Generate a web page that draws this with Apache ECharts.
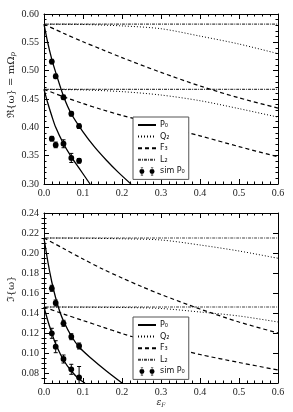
<!DOCTYPE html>
<html><head><meta charset="utf-8">
<script src="https://cdn.jsdelivr.net/npm/echarts@6/dist/echarts.min.js"></script>
<style>html,body{margin:0;padding:0;background:#fff}#c{width:293px;height:412px}</style>
</head><body><div id="c"></div>
<script>
// ---------- Real part (top panel) ----------
const reP0HiEps = [0, 0.01, 0.02, 0.03, 0.05, 0.07, 0.10, 0.13, 0.16, 0.19, 0.223];
const reP0Hi    = [0.582, 0.548, 0.520, 0.497, 0.455, 0.424, 0.392, 0.365, 0.342, 0.321, 0.300];
const reP0LoEps = [0, 0.01, 0.02, 0.03, 0.05, 0.07, 0.09, 0.118];
const reP0Lo    = [0.467, 0.442, 0.420, 0.400, 0.371, 0.348, 0.328, 0.300];
const qEps   = [0, 0.1, 0.2, 0.3, 0.4, 0.5, 0.6];
const reQ2Hi = [0.582, 0.5815, 0.579, 0.574, 0.561, 0.547, 0.530];
const reQ2Lo = [0.467, 0.466, 0.463, 0.457, 0.447, 0.433, 0.418];
const fEps   = [0, 0.05, 0.1, 0.15, 0.2, 0.3, 0.4, 0.5, 0.6];
const reF3Hi = [0.582, 0.566, 0.551, 0.537, 0.523, 0.497, 0.473, 0.452, 0.434];
const reF3Lo = [0.467, 0.454, 0.442, 0.431, 0.421, 0.403, 0.385, 0.366, 0.348];
const lEps   = [0, 0.6];
const reL2Hi = [0.582, 0.582];
const reL2Lo = [0.467, 0.467];
const simEps = [0.02, 0.03, 0.05, 0.07, 0.09];
const reSimHi    = [0.516, 0.490, 0.453, 0.424, 0.402];
const reSimHiErr = [0.004, 0.004, 0.004, 0.004, 0.004];
const reSimLo    = [0.380, 0.369, 0.371, 0.346, 0.341];
const reSimLoErr = [0.004, 0.005, 0.007, 0.008, 0.004];
const reTicks = [0.30, 0.35, 0.40, 0.45, 0.50, 0.55, 0.60];

// ---------- Imaginary part (bottom panel) ----------
const imP0HiEps = [0, 0.01, 0.02, 0.03, 0.04, 0.05, 0.07, 0.09, 0.12, 0.16, 0.2];
const imP0Hi    = [0.215, 0.191, 0.171, 0.155, 0.142, 0.132, 0.117, 0.106, 0.095, 0.082, 0.070];
const imP0LoEps = [0, 0.01, 0.02, 0.03, 0.05, 0.07, 0.09, 0.105];
const imP0Lo    = [0.146, 0.132, 0.120, 0.109, 0.093, 0.082, 0.074, 0.070];
const imQ2Hi = [0.215, 0.2148, 0.2142, 0.213, 0.208, 0.202, 0.1947];
const imQ2Lo = [0.146, 0.1458, 0.1455, 0.1445, 0.141, 0.137, 0.131];
const imF3Eps = [0, 0.05, 0.1, 0.15, 0.2, 0.25, 0.3, 0.4, 0.5, 0.6];
const imF3Hi  = [0.215, 0.2045, 0.194, 0.184, 0.175, 0.1665, 0.1585, 0.144, 0.131, 0.120];
const imF3Lo  = [0.146, 0.139, 0.1325, 0.126, 0.1195, 0.1135, 0.108, 0.0985, 0.0905, 0.083];
const imL2Hi = [0.215, 0.215];
const imL2Lo = [0.146, 0.146];
const imSimHi    = [0.1647, 0.150, 0.1297, 0.1163, 0.107];
const imSimHiErr = [0.003, 0.003, 0.003, 0.003, 0.003];
const imSimLo    = [0.1197, 0.1063, 0.094, 0.0837, 0.0755];
const imSimLoErr = [0.005, 0.006, 0.004, 0.005, 0.011];
const imTicks = [0.08, 0.10, 0.12, 0.14, 0.16, 0.18, 0.20, 0.22, 0.24];

const names = ['P\u2080', 'Q\u2082', 'F\u2083', 'L\u2082', 'sim P\u2080'];

const pairs = (xs, ys) => xs.map((x, i) => [x, ys[i]]);
const triples = (xs, ys, es) => xs.map((x, i) => [x, ys[i], es[i]]);

const serifFont = "'Liberation Serif', 'DejaVu Serif', serif";
const styles = {
  P0: {color: '#000', width: 1.3, type: 'solid'},
  Q2: {color: '#000', width: 1, type: [1, 2]},
  F3: {color: '#000', width: 1.2, type: [4, 3]},
  L2: {color: '#444', width: 1.2, type: [3, 1, 1, 1]}
};

function lineSeries(name, key, xs, ys, gi) {
  return {
    type: 'line', name: name, xAxisIndex: gi * 2, yAxisIndex: gi * 2,
    data: pairs(xs, ys), symbol: 'none', smooth: 0.3,
    color: '#000', itemStyle: {color: '#000'},
    lineStyle: styles[key], clip: true, z: 3, animation: false
  };
}
function errSeries(name, xs, ys, es, gi) {
  return {
    type: 'custom', name: name, xAxisIndex: gi * 2, yAxisIndex: gi * 2,
    data: triples(xs, ys, es), encode: {x: 0, y: 1}, clip: true, z: 5,
    color: '#000', itemStyle: {color: '#000'}, animation: false,
    renderItem: function (params, api) {
      const x = api.value(0), y = api.value(1), e = api.value(2);
      const p = api.coord([x, y]);
      const t = api.coord([x, y + e]);
      const b = api.coord([x, y - e]);
      const st = {stroke: '#000', lineWidth: 1};
      return {type: 'group', children: [
        {type: 'line', shape: {x1: p[0], y1: t[1], x2: p[0], y2: b[1]}, style: st},
        {type: 'line', shape: {x1: p[0] - 2, y1: t[1], x2: p[0] + 2, y2: t[1]}, style: st},
        {type: 'line', shape: {x1: p[0] - 2, y1: b[1], x2: p[0] + 2, y2: b[1]}, style: st},
        {type: 'circle', shape: {cx: p[0], cy: p[1], r: 2.9}, style: {fill: '#000'}}
      ]};
    }
  };
}

const axLine = {show: true, onZero: false, lineStyle: {color: '#000', width: 1}};
function xAx(gi, pos, labels) {
  return {
    type: 'value', gridIndex: gi, position: pos, min: 0, max: 0.6, interval: 0.1,
    axisLine: axLine,
    axisTick: {show: true, inside: true, length: 5, lineStyle: {color: '#000'}},
    minorTick: {show: true, splitNumber: 5, length: 2.5, lineStyle: {color: '#000'}},
    splitLine: {show: false}, minorSplitLine: {show: false},
    axisLabel: {show: labels, margin: 4, fontFamily: serifFont, fontSize: 10, color: '#222',
      formatter: v => v.toFixed(1)}
  };
}
function yTop(pos, labels) {
  return {
    type: 'value', gridIndex: 0, position: pos, min: 0.3, max: 0.6, interval: 0.05,
    axisLine: axLine,
    axisTick: {show: true, inside: true, length: 5, lineStyle: {color: '#000'}},
    minorTick: {show: true, splitNumber: 5, length: 2.5, lineStyle: {color: '#000'}},
    splitLine: {show: false}, minorSplitLine: {show: false},
    axisLabel: {show: labels, margin: 5, fontFamily: serifFont, fontSize: 10, color: '#222',
      formatter: v => v.toFixed(2), customValues: reTicks}
  };
}
const imMinor = [];
for (let v = 0.075; v < 0.2401; v += 0.005) {
  const r = Math.round(v * 1000) / 1000;
  if (Math.round(r * 1000) % 20 !== 0) imMinor.push(r);
}
function yBot(pos, labels) {
  return {
    type: 'value', gridIndex: 1, position: pos, min: 0.07, max: 0.24,
    axisLine: axLine,
    axisTick: {show: true, inside: true, length: 5, lineStyle: {color: '#000'}, customValues: imTicks},
    splitLine: {show: false},
    axisLabel: {show: labels, margin: 5, fontFamily: serifFont, fontSize: 10, color: '#222',
      formatter: v => v.toFixed(2), customValues: imTicks}
  };
}
function yBotMinor(pos) {
  return {
    type: 'value', gridIndex: 1, position: pos, min: 0.07, max: 0.24,
    axisLine: {show: false},
    axisTick: {show: true, inside: true, length: 2.5, lineStyle: {color: '#000'}, customValues: imMinor},
    splitLine: {show: false},
    axisLabel: {show: false, customValues: imMinor}
  };
}

// legend icon: two filled markers with error bars (all sub-paths clockwise)
const simIcon = 'path://M1.5,5a2.8,2.8 0 1,1 5.6,0a2.8,2.8 0 1,1 -5.6,0z' +
  'M12.9,5a2.8,2.8 0 1,1 5.6,0a2.8,2.8 0 1,1 -5.6,0z' +
  'M4,0.5h0.6v9h-0.6z M3,0.5h2.6v0.6h-2.6z M3,8.9h2.6v0.6h-2.6z' +
  'M15.4,0.5h0.6v9h-0.6z M14.4,0.5h2.6v0.6h-2.6z M14.4,8.9h2.6v0.6h-2.6z';

function legendAt(top) {
  return {
    orient: 'vertical', left: 133, top: top, itemWidth: 18, itemHeight: 8, itemGap: 3.6,
    padding: [4, 4, 4, 4], borderColor: '#555', borderWidth: 1, backgroundColor: '#fff',
    borderRadius: 0, z: 10, selectedMode: false,
    itemStyle: {opacity: 0},
    textStyle: {fontFamily: "'DejaVu Sans', sans-serif", fontSize: 8, color: '#111', padding: [0, 0, 0, -1]},
    data: [
      {name: names[0]}, {name: names[1]}, {name: names[2]}, {name: names[3]},
      {name: names[4], icon: simIcon, itemStyle: {opacity: 1, color: '#000'}}
    ]
  };
}

const series = [
  lineSeries(names[3], 'L2', lEps, reL2Hi, 0),
  lineSeries(names[3], 'L2', lEps, reL2Lo, 0),
  lineSeries(names[1], 'Q2', qEps, reQ2Hi, 0),
  lineSeries(names[1], 'Q2', qEps, reQ2Lo, 0),
  lineSeries(names[2], 'F3', fEps, reF3Hi, 0),
  lineSeries(names[2], 'F3', fEps, reF3Lo, 0),
  lineSeries(names[0], 'P0', reP0HiEps, reP0Hi, 0),
  lineSeries(names[0], 'P0', reP0LoEps, reP0Lo, 0),
  errSeries(names[4], simEps, reSimHi, reSimHiErr, 0),
  errSeries(names[4], simEps, reSimLo, reSimLoErr, 0),
  lineSeries(names[3], 'L2', lEps, imL2Hi, 1),
  lineSeries(names[3], 'L2', lEps, imL2Lo, 1),
  lineSeries(names[1], 'Q2', qEps, imQ2Hi, 1),
  lineSeries(names[1], 'Q2', qEps, imQ2Lo, 1),
  lineSeries(names[2], 'F3', imF3Eps, imF3Hi, 1),
  lineSeries(names[2], 'F3', imF3Eps, imF3Lo, 1),
  lineSeries(names[0], 'P0', imP0HiEps, imP0Hi, 1),
  lineSeries(names[0], 'P0', imP0LoEps, imP0Lo, 1),
  errSeries(names[4], simEps, imSimHi, imSimHiErr, 1),
  errSeries(names[4], simEps, imSimLo, imSimLoErr, 1)
];

const chart = echarts.init(document.getElementById('c'), null, {renderer: 'canvas'});
chart.setOption({
  backgroundColor: '#fff',
  animation: false,
  color: ['#000'],
  grid: [
    {left: 44, right: 15, top: 14, height: 170},
    {left: 44, right: 15, top: 213, height: 170}
  ],
  xAxis: [xAx(0, 'bottom', true), xAx(0, 'top', false), xAx(1, 'bottom', true), xAx(1, 'top', false)],
  yAxis: [yTop('left', true), yTop('right', false), yBot('left', true), yBot('right', false),
          yBotMinor('left'), yBotMinor('right')],
  legend: [legendAt(117), legendAt(317)],
  graphic: [
    {type: 'text', x: 11, y: 85, rotation: Math.PI / 2, z: 20,
     style: {text: '\u211C{\u03C9} = m\u03A9{s|p}', rich: {s: {fontSize: 7, fontFamily: "'DejaVu Serif', serif", fontStyle: 'italic', padding: [5, 0, 0, 0]}},
       fontFamily: "'DejaVu Serif', serif", fontSize: 10, fill: '#222', align: 'center', verticalAlign: 'middle'}},
    {type: 'text', x: 11, y: 289, rotation: Math.PI / 2, z: 20,
     style: {text: '\u2111{\u03C9}', fontFamily: "'DejaVu Serif', serif", fontSize: 10, fill: '#222',
       align: 'center', verticalAlign: 'middle'}},
    {type: 'text', x: 161, y: 403, z: 20,
     style: {text: '\u03B5{s|F}', rich: {s: {fontSize: 6, fontFamily: "'DejaVu Serif', serif", fontStyle: 'italic', padding: [4, 0, 0, 0]}},
       fontFamily: "'DejaVu Serif', serif", fontStyle: 'italic', fontSize: 9, fill: '#222', align: 'center', verticalAlign: 'middle'}}
  ],
  series: series
});
</script>
</body></html>
